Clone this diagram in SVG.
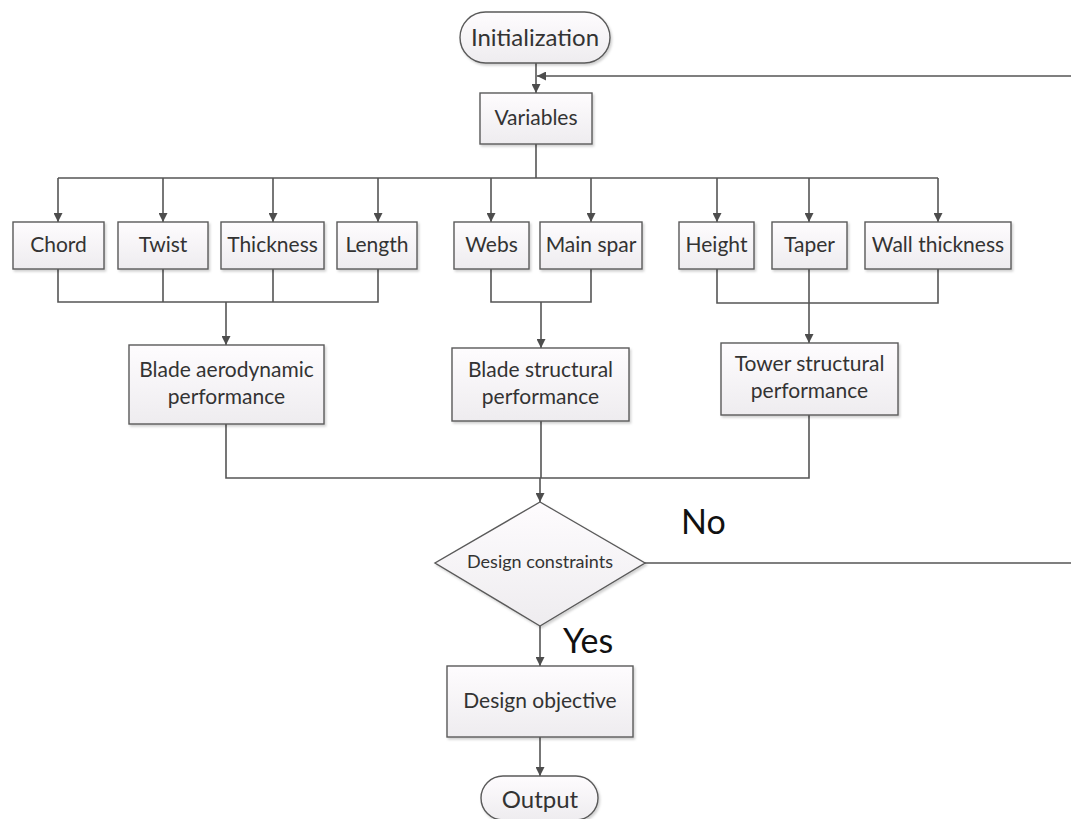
<svg xmlns="http://www.w3.org/2000/svg" width="1071" height="819" viewBox="0 0 1071 819">
  <defs>
    <linearGradient id="fillGrad" x1="0" y1="0" x2="0" y2="1">
      <stop offset="0" stop-color="#fefcfe"/>
      <stop offset="1" stop-color="#eeecef"/>
    </linearGradient>
    <filter id="shadow" x="-10%" y="-10%" width="130%" height="140%">
      <feDropShadow dx="1.5" dy="2" stdDeviation="1.2" flood-color="#000" flood-opacity="0.18"/>
    </filter>
    <marker id="arrow" viewBox="0 0 10 10" refX="10" refY="5" markerWidth="9" markerHeight="9" markerUnits="userSpaceOnUse" orient="auto">
      <path d="M0,0 L10,5 L0,10 z" fill="#4d4d4d"/>
    </marker>
  </defs>
  <style>
    .shape { fill: url(#fillGrad); stroke: #5a5a5a; stroke-width: 1.4; filter: url(#shadow); }
    .conn { fill: none; stroke: #555; stroke-width: 1.6; }
    .arr { marker-end: url(#arrow); }
    .t { font-family: Lato, "Liberation Sans", sans-serif; fill: #333; text-anchor: middle; font-size: 21px; }
    .term { font-size: 24px; }
    .small { font-size: 18px; }
    .big { font-family: Lato, "Liberation Sans", sans-serif; fill: #111; font-size: 34px; }
  </style>

  <rect width="1071" height="819" fill="#ffffff"/>

  <g id="connectors">
    <path class="conn arr" d="M536,63 V93"/>
    <path class="conn arr" d="M645,563 H1085 V76 H537"/>
    <path class="conn" d="M536,144 V178 M58,178 H938"/>
    <path class="conn arr" d="M58,178 V222"/>
    <path class="conn arr" d="M163,178 V222"/>
    <path class="conn arr" d="M273,178 V222"/>
    <path class="conn arr" d="M378,178 V222"/>
    <path class="conn arr" d="M491,178 V222"/>
    <path class="conn arr" d="M591,178 V222"/>
    <path class="conn arr" d="M717,178 V222"/>
    <path class="conn arr" d="M809,178 V222"/>
    <path class="conn arr" d="M938,178 V222"/>
    <path class="conn" d="M58,269 V302 H378 V269 M163,269 V302 M273,269 V302"/>
    <path class="conn arr" d="M226,302 V345"/>
    <path class="conn" d="M491,269 V302 H591 V269"/>
    <path class="conn arr" d="M541,302 V348"/>
    <path class="conn" d="M717,269 V303 H938 V269"/>
    <path class="conn arr" d="M809,269 V343"/>
    <path class="conn" d="M226,424 V478 H809 V415 M541,421 V478"/>
    <path class="conn arr" d="M540,478 V502"/>
    <path class="conn arr" d="M540,626 V666"/>
    <path class="conn arr" d="M540,737 V776"/>
  </g>

  <g id="initialization">
    <rect class="shape" x="460" y="12" width="150" height="51" rx="25.5"/>
    <text class="t term" x="535" y="46">Initialization</text>
  </g>
  <g id="variables">
    <rect class="shape" x="480" y="93" width="112" height="51"/>
    <text class="t" x="536" y="125">Variables</text>
  </g>

  <g id="chord">
    <rect class="shape" x="13" y="222" width="91" height="47"/>
    <text class="t" x="58.5" y="252">Chord</text>
  </g>
  <g id="twist">
    <rect class="shape" x="118" y="222" width="90" height="47"/>
    <text class="t" x="163" y="252">Twist</text>
  </g>
  <g id="thickness">
    <rect class="shape" x="221" y="222" width="103" height="47"/>
    <text class="t" x="272.5" y="252">Thickness</text>
  </g>
  <g id="length">
    <rect class="shape" x="337" y="222" width="80" height="47"/>
    <text class="t" x="377" y="252">Length</text>
  </g>
  <g id="webs">
    <rect class="shape" x="454" y="222" width="75" height="47"/>
    <text class="t" x="491.5" y="252">Webs</text>
  </g>
  <g id="main-spar">
    <rect class="shape" x="540" y="222" width="102" height="47"/>
    <text class="t" x="591" y="252">Main spar</text>
  </g>
  <g id="height">
    <rect class="shape" x="679" y="222" width="75" height="47"/>
    <text class="t" x="716.5" y="252">Height</text>
  </g>
  <g id="taper">
    <rect class="shape" x="772" y="222" width="75" height="47"/>
    <text class="t" x="809.5" y="252">Taper</text>
  </g>
  <g id="wall-thickness">
    <rect class="shape" x="865" y="222" width="146" height="47"/>
    <text class="t" x="938" y="252">Wall thickness</text>
  </g>

  <g id="blade-aero">
    <rect class="shape" x="129" y="345" width="195" height="79"/>
    <text class="t" x="226.5" y="377">Blade aerodynamic</text>
    <text class="t" x="226.5" y="404">performance</text>
  </g>
  <g id="blade-struct">
    <rect class="shape" x="452" y="348" width="177" height="73"/>
    <text class="t" x="540.5" y="377">Blade structural</text>
    <text class="t" x="540.5" y="404">performance</text>
  </g>
  <g id="tower-struct">
    <rect class="shape" x="721" y="343" width="177" height="72"/>
    <text class="t" x="809.5" y="371">Tower structural</text>
    <text class="t" x="809.5" y="398">performance</text>
  </g>

  <g id="design-constraints">
    <polygon class="shape" points="540,502 645,563 540,626 435,563"/>
    <text class="t small" x="540" y="568">Design constraints</text>
  </g>
  <g id="label-no">
    <text class="big" x="681" y="534">No</text>
  </g>
  <g id="label-yes">
    <text class="big" x="563" y="653">Yes</text>
  </g>

  <g id="design-objective">
    <rect class="shape" x="447" y="666" width="186" height="71"/>
    <text class="t" x="540" y="708">Design objective</text>
  </g>
  <g id="output">
    <rect class="shape" x="481" y="776" width="117" height="44" rx="22"/>
    <text class="t term" x="540" y="808">Output</text>
  </g>
</svg>
